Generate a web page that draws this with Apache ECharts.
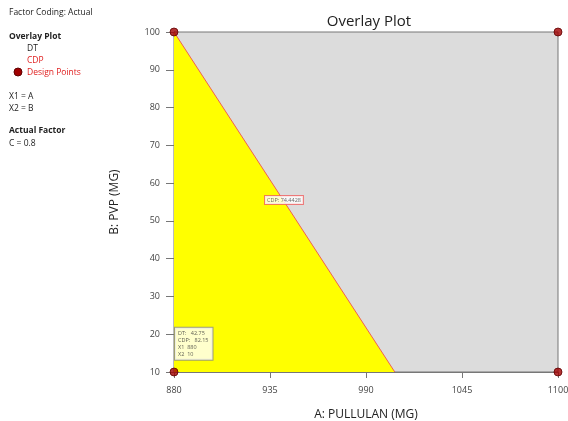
<!DOCTYPE html>
<html><head><meta charset="utf-8">
<script src="https://cdn.jsdelivr.net/npm/echarts@6/dist/echarts.min.js"></script>
<style>html,body{margin:0;padding:0;background:#fff;overflow:hidden}#c{width:568px;height:421px}</style>
</head><body><div id="c"></div>
<script>
const xTicks = [880, 935, 990, 1045, 1100];
const yTicks = [10, 20, 30, 40, 50, 60, 70, 80, 90, 100];
const boundaryCDP = [[880, 100], [1006.5, 10]];
const designPoints = [[880, 100], [880, 10], [1100, 100], [1100, 10]];
const cdpLabelPoint = [943, 55.5];
const cdpLabelText = 'CDP: 74.4428';
const flagPoint = [880, 17.5];
const flagLines = ['DT:   42.75', 'CDP:   82.15', 'X1  880', 'X2  10'];
const legendLines = ['Factor Coding: Actual', 'Overlay Plot', 'DT', 'CDP', 'Design Points', 'X1 = A', 'X2 = B', 'Actual Factor', 'C = 0.8'];

const F = '"Open Sans", "Noto Sans", sans-serif';
const chart = echarts.init(document.getElementById('c'));
const txt = (x, y, t, o) => Object.assign({type:'text', left:x, top:y, style:Object.assign({text:t, font:'8.5px ' + F, fill:'#222'}, o||{})});
chart.setOption({
  animation:false,
  title:{text:'Overlay Plot', left:364, top:9, textAlign:'center', textStyle:{fontFamily:F, fontSize:15, fontWeight:'normal', color:'#222'}},
  grid:{left:174, right:10, top:32, bottom:49, outerBoundsMode:'none', containLabel:false, show:true, backgroundColor:'#dcdcdc', borderColor:'#777', borderWidth:1},
  xAxis:{type:'value', min:880, max:1100, interval:55, name:'A: PULLULAN (MG)', nameLocation:'middle', nameGap:37,
    nameTextStyle:{fontFamily:F, fontSize:12, color:'#222'},
    axisLine:{lineStyle:{color:'#777'}}, axisTick:{show:true, length:6, lineStyle:{color:'#777'}},
    splitLine:{show:false}, axisLabel:{fontFamily:F, fontSize:9, color:'#444', margin:14, formatter:v => String(v)}},
  yAxis:{type:'value', min:10, max:100, interval:10, name:'B: PVP (MG)', nameLocation:'middle', nameGap:53,
    nameTextStyle:{fontFamily:F, fontSize:12, color:'#222'},
    axisLine:{show:true, lineStyle:{color:'#777'}}, axisTick:{show:true, length:8, lineStyle:{color:'#777'}},
    splitLine:{show:false}, axisLabel:{fontFamily:F, fontSize:9, color:'#444', margin:14, formatter:v => String(v)}},
  graphic:[
    txt(9, 8, legendLines[0]),
    txt(9, 32, legendLines[1], {font:'bold 8.5px ' + F}),
    txt(27, 44, legendLines[2]),
    txt(27, 56, legendLines[3], {fill:'#e02020'}),
    {type:'circle', shape:{cx:18, cy:72, r:4}, style:{fill:'#a00000', stroke:'#600000'}},
    txt(27, 68, legendLines[4], {fill:'#e02020'}),
    txt(9, 92, legendLines[5]),
    txt(9, 104, legendLines[6]),
    txt(9, 126, legendLines[7], {font:'bold 8.5px ' + F}),
    txt(9, 139, legendLines[8])
  ],
  series:[
    {type:'line', data:boundaryCDP, symbol:'none', lineStyle:{color:'#f06050', width:1},
     areaStyle:{color:'#ffff00', opacity:1, origin:'start'}, z:2},
    {type:'scatter', data:[cdpLabelPoint], symbolSize:0, z:5,
     label:{show:true, position:'inside', formatter:cdpLabelText, fontFamily:F, fontSize:5.5, color:'#444',
       backgroundColor:'#fff', borderColor:'#f06060', borderWidth:1, padding:[1,2]}},
    {type:'scatter', data:[flagPoint], symbolSize:0, z:5,
     label:{show:true, position:'right', distance:1, formatter:flagLines.join('\n'), fontFamily:F, fontSize:5.5, lineHeight:7, color:'#333',
       backgroundColor:'#fff', borderColor:'#888', borderWidth:1, padding:[2,4,2,3]}},
    {type:'scatter', data:designPoints, symbolSize:8, z:6, clip:false,
     itemStyle:{color:'#a00000', borderColor:'#600000', borderWidth:1}}
  ]
});
</script></body></html>
